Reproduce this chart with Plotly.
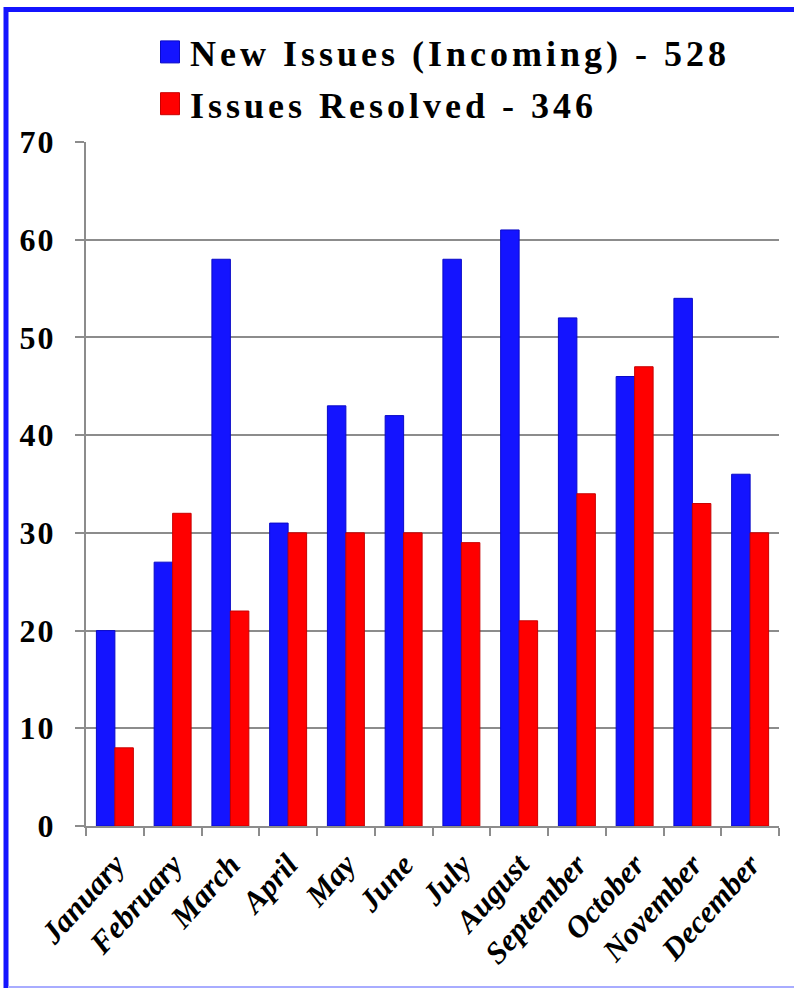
import plotly.graph_objects as go

months = ["January", "February", "March", "April", "May", "June", "July",
          "August", "September", "October", "November", "December"]
new_issues = [20, 27, 58, 31, 43, 42, 58, 61, 52, 46, 54, 36]
resolved = [8, 32, 22, 30, 30, 30, 29, 21, 34, 47, 33, 30]
new_name = "New Issues (Incoming) - 528"
res_name = "Issues Resolved - 346"
y_ticks = [0, 10, 20, 30, 40, 50, 60, 70]

W, H = 794, 988
L, R, T, B = 86, 779, 142, 826
pw, ph = R - L, B - T

def px_x(v):
    return (v - L) / pw

def px_y(v):
    return (B - v) / ph

FONT = "Liberation Serif"
GRAY = "#8c8c8c"

fig = go.Figure()
fig.add_trace(go.Bar(x=months, y=new_issues, name=new_name, marker_color="#1414ff",
                     marker_line=dict(color="#0a0ac8", width=1),
                     legendgroup="a"))
fig.add_trace(go.Bar(x=months, y=resolved, name=res_name, marker_color="#ff0000",
                     marker_line=dict(color="#c80000", width=1),
                     legendgroup="b"))

shapes = [
    dict(type="line", xref="paper", yref="paper", x0=px_x(6), x1=px_x(6),
         y0=px_y(7), y1=px_y(995), line=dict(color="#1414ff", width=5)),
    dict(type="line", xref="paper", yref="paper", x0=px_x(4), x1=px_x(800),
         y0=px_y(9.5), y1=px_y(9.5), line=dict(color="#1414ff", width=5)),
    dict(type="line", xref="paper", yref="paper", x0=px_x(8), x1=px_x(800),
         y0=px_y(987), y1=px_y(987), line=dict(color="#a8acff", width=2)),
]

fig.update_layout(
    width=W, height=H,
    margin=dict(l=L, r=W - R, t=T, b=H - B),
    paper_bgcolor="white", plot_bgcolor="white",
    barmode="group", bargap=0.36, bargroupgap=0,
    showlegend=True,
    legend=dict(x=px_x(150), y=px_y(22), xanchor="left", yanchor="top",
                font=dict(family=FONT, size=36, color="black", weight="bold"),
                traceorder="grouped", tracegroupgap=2, itemwidth=30,
                bgcolor="rgba(0,0,0,0)"),
    shapes=shapes,
    xaxis=dict(showgrid=False, showline=True, linecolor=GRAY, linewidth=2,
               ticks="outside", tickson="boundaries", ticklen=8, tickwidth=2,
               tickcolor=GRAY, tickangle=-48, ticklabelstandoff=6,
               tickfont=dict(family=FONT, size=31, color="black", weight="bold",
                             style="italic")),
    yaxis=dict(range=[0, 70], tickvals=y_ticks, showgrid=True, gridcolor=GRAY,
               gridwidth=2, showline=True, linecolor=GRAY, linewidth=2,
               ticks="outside", ticklen=9, tickwidth=2, tickcolor=GRAY,
               ticklabelstandoff=13, zeroline=False,
               tickfont=dict(family=FONT, size=32, color="black", weight="bold")),
)

post = """
document.body.style.margin = '0';
var gd = document.getElementById('{plot_id}');
function fix(){
  gd.querySelectorAll('.legend [clip-path]').forEach(function(e){e.removeAttribute('clip-path');});
  gd.querySelectorAll('.legendtext').forEach(function(t){t.style.letterSpacing='4px';});
  gd.querySelectorAll('.ytick text').forEach(function(t){t.style.letterSpacing='2px';});
  gd.querySelectorAll('.legendpoints path').forEach(function(p){p.setAttribute('d','M9.5,11H-9.5V-11H9.5Z');});
}
fix();
"""

fig.write_html("out.html", post_script=post,
               config={"displayModeBar": False, "staticPlot": True})
